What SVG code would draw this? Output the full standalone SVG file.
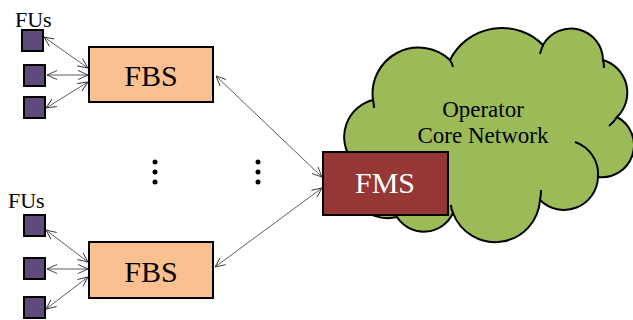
<svg xmlns="http://www.w3.org/2000/svg" width="633" height="320" viewBox="0 0 633 320">
<defs>
<style>
.fu{fill:#604A7B;stroke:#000;stroke-width:2}
.fbs{fill:#FAC090;stroke:#000;stroke-width:2}
.lbl{font-family:"Liberation Serif","Times New Roman",serif;fill:#000}
.big{font-size:30px;text-anchor:middle}
.c{fill:none;stroke:#333;stroke-width:0.8}
.cl{fill:#9BBB59;stroke:#000;stroke-width:2}
.in{fill:none;stroke:#000;stroke-width:2}
</style>
<marker id="ah" viewBox="0 0 10 10" refX="10" refY="5" markerWidth="10" markerHeight="10" markerUnits="userSpaceOnUse" orient="auto-start-reverse">
<path d="M0,0.5 L10,5 L0,9.5" fill="none" stroke="#333" stroke-width="0.9"/>
</marker>
</defs>
<g id="cloud">
<path class="cl" d="M373,100 A46,46 0 0 1 450,60 A58,58 0 0 1 543,45 A32,32 0 0 1 603,60 A34,34 0 0 1 617,117 A32,32 0 0 1 598,177 A34,34 0 0 1 540,200 A45,45 0 0 1 453,213 A32,32 0 0 1 397,217 A40,40 0 0 1 352,160 A38,38 0 0 1 373,100 Z"/>
<path class="in" d="M450,60 Q452,63 453,67"/>
<path class="in" d="M543,45 Q541,50 540,54"/>
<path class="in" d="M603,60 Q604,64 604,68"/>
<path class="in" d="M617,117 Q614,122 609,126"/>
<path class="in" d="M575,142 A34,34 0 0 1 598,177"/>
<path class="in" d="M540,200 Q541,195 541,190"/>
<path class="in" d="M453,213 Q451,209 451,205"/>
<path class="in" d="M373,100 Q374,104 374,108"/>
<text class="lbl" x="483" y="117" font-size="23" text-anchor="middle">Operator</text>
<text class="lbl" x="483" y="143" font-size="23" text-anchor="middle">Core Network</text>
</g>
<g id="connectors">
<line class="c" x1="44" y1="37" x2="88" y2="68" marker-start="url(#ah)" marker-end="url(#ah)"/>
<line class="c" x1="47" y1="75" x2="88" y2="75" marker-start="url(#ah)" marker-end="url(#ah)"/>
<line class="c" x1="46" y1="108" x2="88" y2="82" marker-start="url(#ah)" marker-end="url(#ah)"/>
<line class="c" x1="46" y1="230" x2="88" y2="262" marker-start="url(#ah)" marker-end="url(#ah)"/>
<line class="c" x1="47" y1="269" x2="88" y2="269" marker-start="url(#ah)" marker-end="url(#ah)"/>
<line class="c" x1="46" y1="309" x2="88" y2="277" marker-start="url(#ah)" marker-end="url(#ah)"/>
<line class="c" x1="216" y1="76" x2="322" y2="177" marker-start="url(#ah)" marker-end="url(#ah)"/>
<line class="c" x1="215" y1="267" x2="322" y2="188" marker-start="url(#ah)" marker-end="url(#ah)"/>
</g>
<g id="fus-top">
<text class="lbl" x="15" y="27" font-size="22">FUs</text>
<rect class="fu" x="22" y="30" width="21" height="21"/>
<rect class="fu" x="24" y="65" width="21" height="21"/>
<rect class="fu" x="24" y="97" width="21" height="21"/>
</g>
<g id="fbs-top">
<rect class="fbs" x="89" y="47" width="124" height="55"/>
<text class="lbl big" x="151" y="86">FBS</text>
</g>
<g id="fus-bottom">
<text class="lbl" x="8" y="208" font-size="22">FUs</text>
<rect class="fu" x="24" y="215" width="21" height="21"/>
<rect class="fu" x="24" y="258" width="21" height="21"/>
<rect class="fu" x="24" y="297" width="21" height="21"/>
</g>
<g id="fbs-bottom">
<rect class="fbs" x="89" y="242" width="124" height="56"/>
<text class="lbl big" x="151" y="282">FBS</text>
</g>
<g id="dots">
<circle cx="155" cy="162" r="2.5"/><circle cx="155" cy="172" r="2.5"/><circle cx="155" cy="182" r="2.5"/>
<circle cx="258" cy="162" r="2.5"/><circle cx="258" cy="172" r="2.5"/><circle cx="258" cy="182" r="2.5"/>
</g>
<g id="fms">
<rect x="323" y="152" width="125" height="63" fill="#953735" stroke="#000" stroke-width="2"/>
<text class="lbl big" x="385" y="193" style="fill:#fff">FMS</text>
</g>
</svg>
